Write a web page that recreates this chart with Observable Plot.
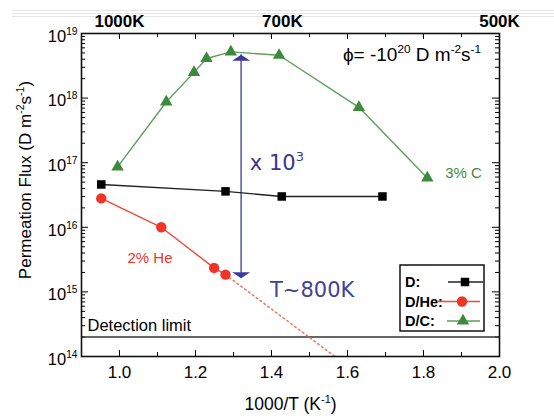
<!DOCTYPE html>
<html><head><meta charset="utf-8">
<script src="https://cdn.jsdelivr.net/npm/d3@7"></script>
<script src="https://cdn.jsdelivr.net/npm/@observablehq/plot@0.6"></script>
<style>
html,body{margin:0;padding:0;background:#fff;}
#wrap{position:relative;width:554px;height:416px;overflow:hidden;font-family:"Liberation Sans",Arial,sans-serif;}
.hdr{position:absolute;left:12px;right:0;height:1px;background:#e4e4e4;}
</style></head><body>
<div id="wrap"><div class="hdr" style="top:10px"></div><div class="hdr" style="top:13px"></div><div class="hdr" style="top:16px"></div></div>
<script>
// ---------- data ----------
const dX      = [0.952, 1.279, 1.427, 1.692];
const dFlux   = [4.6e16, 3.6e16, 3.0e16, 3.0e16];
const heX     = [0.952, 1.110, 1.249, 1.279];
const heFlux  = [2.8e16, 1.0e16, 2.35e15, 1.85e15];
const heExtX  = [1.279, 1.567];
const heExtFlux = [1.85e15, 1.0e14];
const cX      = [0.995, 1.123, 1.196, 1.229, 1.293, 1.420, 1.630, 1.810];
const cFlux   = [8.6e16, 8.7e17, 2.5e18, 4.1e18, 5.2e18, 4.6e18, 7.2e17, 5.8e16];
const detectionLimit = [2e14];
const arrowX = [1.32];
const arrowTop = [4.7e18];
const arrowBottom = [1.63e15];
const xTickLabels = [1.0, 1.2, 1.4, 1.6, 1.8, 2.0];
const xMinorTicks = [1.1, 1.3, 1.5, 1.7, 1.9];
const yTickValues = [1e14, 1e15, 1e16, 1e17, 1e18, 1e19];
const topTemps = [1000, 700, 500];
const legendNames = ["D:", "D/He:", "D/C:"];
const notes = [
  {x: 1.343, y: 9.7e16, text: "x 10^{3}", color: "#383890", size: 21, font: "DejaVu Sans"},
  {x: 1.396, y: 1.06e15, text: "T~800K", color: "#41419a", size: 21, font: "DejaVu Sans"},
  {x: 1.021, y: 3.3e15, text: "2% He", color: "#ee3526", size: 15, font: "Liberation Sans"},
  {x: 1.857, y: 6.8e16, text: "3% C", color: "#3f8a3f", size: 15, font: "Liberation Sans"},
  {x: 1.588, y: 4.6e18, text: "ϕ= -10^{20} D m^{-2}s^{-1}", color: "#000", size: 19, font: "Liberation Sans"}
];

// ---------- layout / style ----------
const W = 554, H = 416, mL = 81, mR = 55, mT = 33, mB = 60;
const plotW = W - mL - mR, plotH = H - mT - mB;
const black = "#000", red = "#ee3526", redLine = "#f04a34", green = "#3c8a3c", greenLine = "#5e9e5e", blue = "#3a3aa0";

const rows = (xs, ys) => xs.map((x, i) => ({x, y: ys[i]}));
const dRows = rows(dX, dFlux), heRows = rows(heX, heFlux), heExtRows = rows(heExtX, heExtFlux), cRows = rows(cX, cFlux);
const yMinor = d3.range(14, 19).flatMap(e => d3.range(2, 10).map(k => k * Math.pow(10, e)));

const arrowUp = {draw(ctx) { ctx.moveTo(0, 0); ctx.lineTo(9, 6); ctx.lineTo(-9, 6); ctx.closePath(); }};
const arrowDown = {draw(ctx) { ctx.moveTo(0, 0); ctx.lineTo(9, -6); ctx.lineTo(-9, -6); ctx.closePath(); }};

const chart = Plot.plot({
  width: W, height: H, marginLeft: mL, marginRight: mR, marginTop: mT, marginBottom: mB,
  style: {fontFamily: "Liberation Sans, Arial, sans-serif", fontSize: "16px", background: "transparent", color: "#000"},
  x: {domain: [0.9, 2.0]},
  y: {type: "log", domain: [1e14, 1e19]},
  marks: [
    Plot.axisX({ticks: xTickLabels, tickSize: 0, tickPadding: 9, tickFormat: d => d.toFixed(1), fontSize: 17, label: null}),
    Plot.axisY({ticks: yTickValues, tickSize: 0, tickPadding: 4, dy: 3, tickFormat: d => `10^{${Math.round(Math.log10(d))}}`, fontSize: 16.5, label: null}),
    // inward ticks, four sides
    Plot.ruleX(xTickLabels, {insetTop: plotH - 6, stroke: black}),
    Plot.ruleX(xMinorTicks, {insetTop: plotH - 4, stroke: black}),
    Plot.ruleX(xTickLabels, {insetBottom: plotH - 6, stroke: black}),
    Plot.ruleX(xMinorTicks, {insetBottom: plotH - 4, stroke: black}),
    Plot.ruleY(yTickValues, {insetRight: plotW - 7, stroke: black}),
    Plot.ruleY(yMinor, {insetRight: plotW - 4, stroke: black}),
    Plot.ruleY(yTickValues, {insetLeft: plotW - 7, stroke: black}),
    Plot.ruleY(yMinor, {insetLeft: plotW - 4, stroke: black}),
    // detection limit
    Plot.ruleY(detectionLimit, {stroke: "#333", strokeWidth: 1.4}),
    Plot.text(detectionLimit, {y: d => d, frameAnchor: "left", dx: 6, dy: -11, textAnchor: "start", text: () => "Detection limit", fontSize: 16.5, fill: black}),
    // blue double arrow
    Plot.ruleX(arrowX, {x: d => d, y1: () => arrowTop[0], y2: () => arrowBottom[0], stroke: blue, strokeWidth: 1.3}),
    Plot.dot(arrowX, {x: d => d, y: () => arrowTop[0], symbol: arrowUp, r: 5, fill: blue, stroke: "none"}),
    Plot.dot(arrowX, {x: d => d, y: () => arrowBottom[0], symbol: arrowDown, r: 5, fill: blue, stroke: "none"}),
    // series
    Plot.line(heExtRows, {x: "x", y: "y", stroke: "#f07a62", strokeWidth: 1.6, strokeDasharray: "1.6,3.2"}),
    Plot.line(cRows, {x: "x", y: "y", stroke: greenLine, strokeWidth: 1.4}),
    Plot.line(dRows, {x: "x", y: "y", stroke: "#222", strokeWidth: 1.4}),
    Plot.line(heRows, {x: "x", y: "y", stroke: redLine, strokeWidth: 1.4}),
    Plot.dot(cRows, {x: "x", y: "y", symbol: "triangle", r: 4.6, fill: green, stroke: "none"}),
    Plot.dot(dRows, {x: "x", y: "y", symbol: "square", r: 4.8, fill: black, stroke: "none"}),
    Plot.dot(heRows, {x: "x", y: "y", symbol: "circle", r: 5.2, fill: red, stroke: "none"}),
    // annotations
    ...notes.map(n => Plot.text([n], {x: "x", y: "y", text: "text", textAnchor: "start", fill: n.color, fontSize: n.size, fontFamily: n.font})),
    // top temperature axis
    Plot.text(topTemps, {x: t => 1000 / t, frameAnchor: "top", lineAnchor: "middle", dy: -12, text: t => `${t}K`, fontWeight: "bold", fontSize: 17, fill: black}),
    // axis titles
    Plot.text(["1000/T (K^{-1})"], {frameAnchor: "bottom", lineAnchor: "middle", textAnchor: "middle", dy: 48, text: d => d, fontSize: 17.5, fill: black}),
    Plot.text(["Permeation Flux (D m^{-2}s^{-1})"], {frameAnchor: "left", textAnchor: "middle", lineAnchor: "middle", dx: -56, dy: -15, rotate: -90, text: d => d, fontSize: 17, fill: black}),
    Plot.frame({stroke: "#111", strokeWidth: 1.6})
  ]
});
chart.style.position = "absolute";
chart.style.left = "0px";
chart.style.top = "0px";
document.getElementById("wrap").appendChild(chart);

// superscripts: turn "^{..}" into raised tspans
const NS = "http://www.w3.org/2000/svg";
chart.querySelectorAll("text").forEach(el => {
  const s = el.textContent;
  if (!s.includes("^{")) return;
  const fs = parseFloat(getComputedStyle(el).fontSize) || 16;
  while (el.firstChild) el.removeChild(el.firstChild);
  let raised = false;
  s.split(/(\^\{[^}]*\})/).forEach(p => {
    if (!p) return;
    const t = document.createElementNS(NS, "tspan");
    if (p.startsWith("^{")) {
      t.textContent = p.slice(2, -1);
      t.setAttribute("font-size", (fs * 0.62).toFixed(2));
      t.setAttribute("dy", (-fs * 0.42).toFixed(2));
      raised = true;
    } else {
      t.textContent = p;
      if (raised) { t.setAttribute("dy", (fs * 0.42).toFixed(2)); raised = false; }
    }
    el.appendChild(t);
  });
});

// legend box
const svg = d3.select(chart);
const lg = svg.append("g").attr("transform", "translate(400,265)");
lg.append("rect").attr("width", 84).attr("height", 66).attr("fill", "#fff").attr("stroke", "#000").attr("stroke-width", 1.4);
const legendStyle = [
  {color: "#222", fill: black, sym: d3.symbolSquare, size: 72, x1: 48, x2: 83, mx: 65},
  {color: redLine, fill: red, sym: d3.symbolCircle, size: 85, x1: 37, x2: 80, mx: 62},
  {color: greenLine, fill: green, sym: d3.symbolTriangle, size: 66, x1: 47, x2: 80, mx: 63}
];
legendNames.forEach((name, i) => {
  const cy = 17 + i * 19.5, st = legendStyle[i];
  lg.append("text").attr("x", 5).attr("y", cy).attr("dy", "0.36em").attr("font-size", 14.5).attr("font-weight", "bold")
    .attr("text-anchor", "start").attr("font-family", "Liberation Sans, Arial, sans-serif").attr("fill", "#000").text(name);
  lg.append("line").attr("x1", st.x1).attr("x2", st.x2).attr("y1", cy).attr("y2", cy).attr("stroke", st.color).attr("stroke-width", 1.4);
  lg.append("path").attr("transform", `translate(${st.mx},${cy})`).attr("d", d3.symbol(st.sym, st.size)()).attr("fill", st.fill);
});
</script>
</body></html>
